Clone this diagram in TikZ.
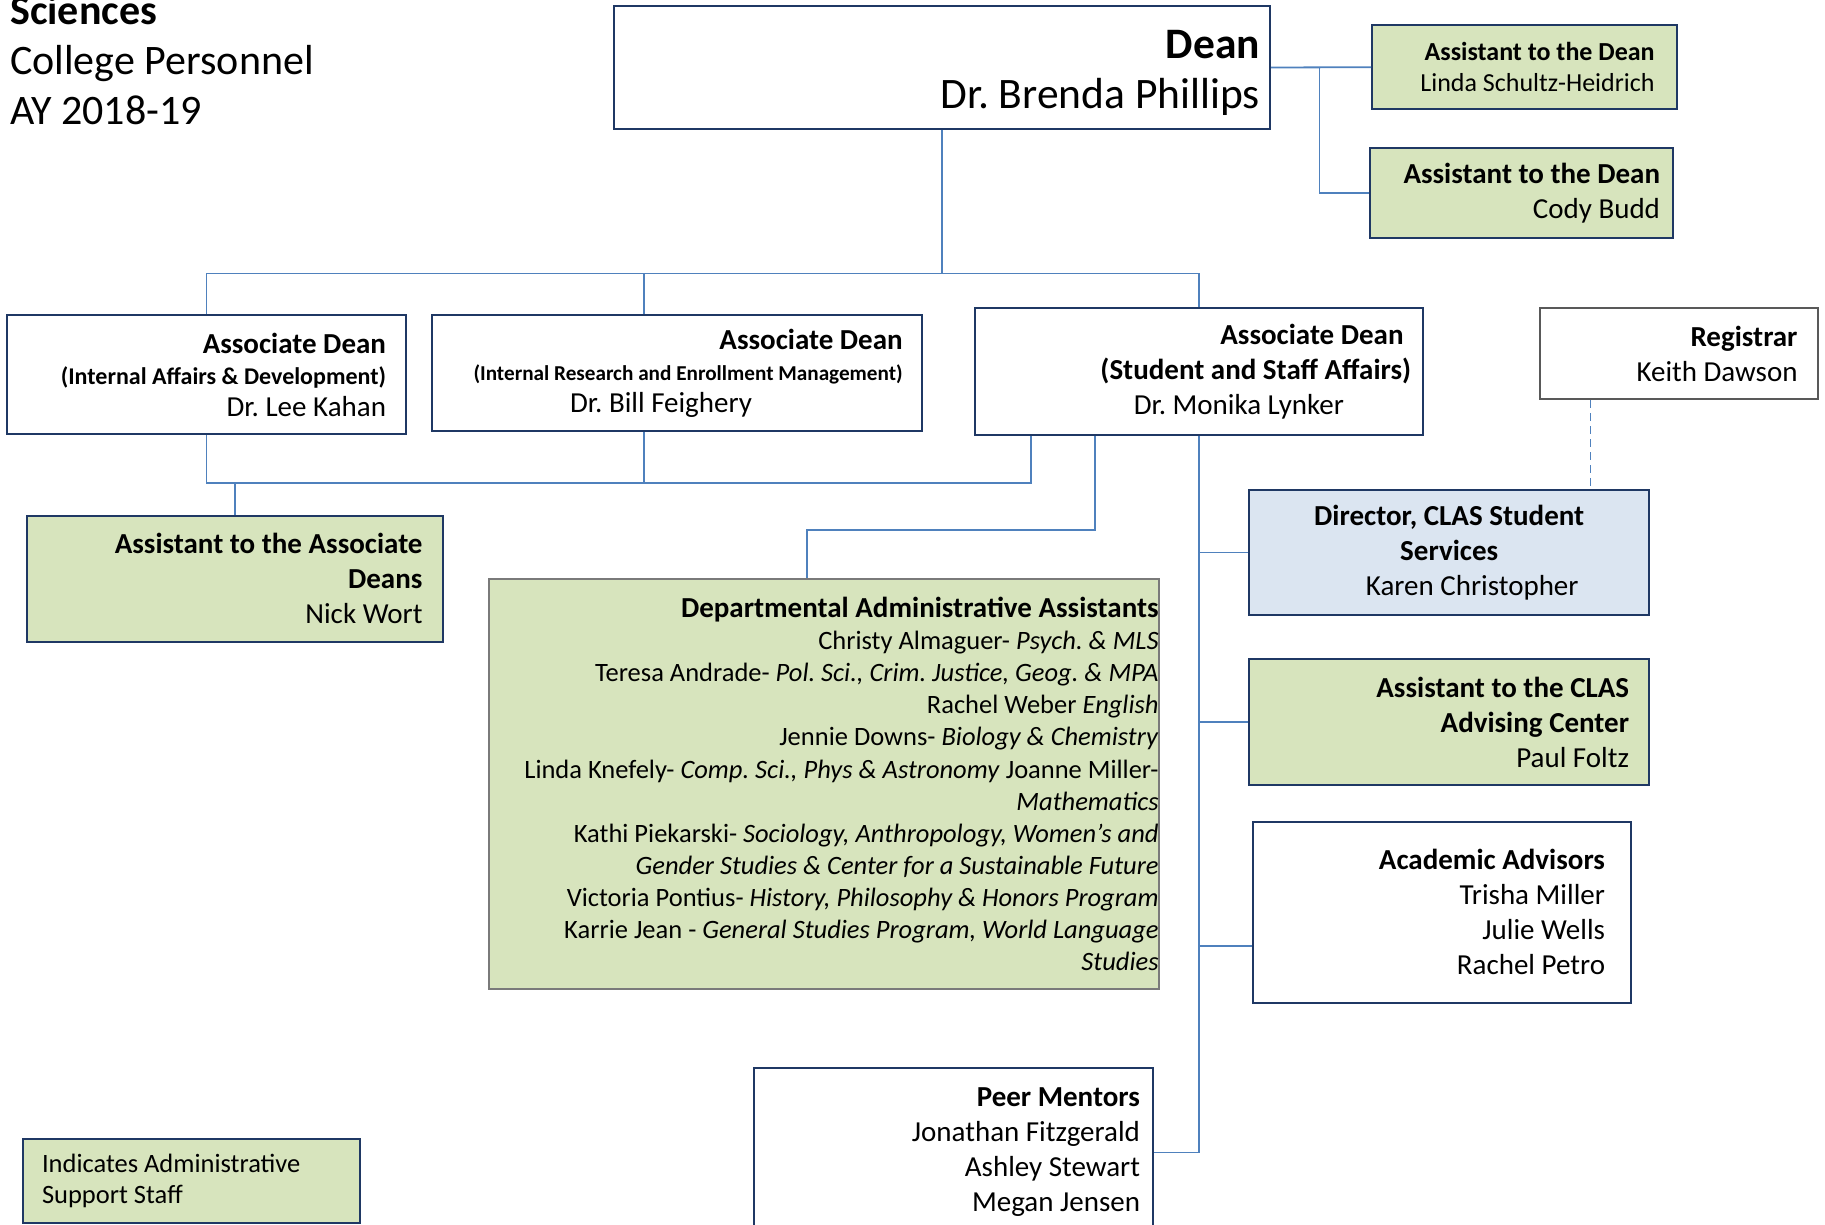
\documentclass[tikz,border=0pt]{standalone}
\usepackage{fontspec}
\setmainfont{Carlito}
\frenchspacing

\definecolor{navyline}{HTML}{1F3864}
\definecolor{linkblue}{HTML}{4F81BD}
\definecolor{supportgreen}{HTML}{D7E4BD}
\definecolor{servicesblue}{HTML}{DBE5F1}
\definecolor{greyline}{HTML}{595959}
\definecolor{listline}{HTML}{7A7A7A}

\newcommand{\titlefont}{\fontsize{42}{50}\selectfont}
\newcommand{\deanfont}{\fontsize{43.5}{50}\selectfont}
\newcommand{\boxfont}{\fontsize{29}{35}\selectfont}
\newcommand{\adfont}{\fontsize{29}{31.5}\selectfont}
\newcommand{\smallboxfont}{\fontsize{26}{31}\selectfont}
\newcommand{\listfont}{\fontsize{26.5}{32.1}\selectfont}
\newcommand{\legendfont}{\fontsize{26.5}{31}\selectfont}

\tikzset{
  unit/.style={draw=navyline, line width=2pt, fill=white, inner xsep=0pt, inner ysep=0pt, align=flush right},
  support/.style={unit, fill=supportgreen},
  link/.style={draw=linkblue, line width=1.8pt},
}

\begin{document}
\begin{tikzpicture}[x=1pt, y=-1pt]
\useasboundingbox (0,0) rectangle (1825,1225);

% heading
\node[anchor=base west, inner sep=0pt, font=\titlefont\bfseries] (sciences) at (10,25) {Sciences};
\node[anchor=base west, inner sep=0pt, font=\titlefont] (college) at (10,75) {College Personnel};
\node[anchor=base west, inner sep=0pt, font=\titlefont] (year) at (10,125) {AY 2018-19};

% dean and her assistants
\node[unit, minimum width=656pt, minimum height=123.6pt, text width=636pt, font=\deanfont] (dean) at (942,67.5)
  {\rule{0pt}{40pt}\textbf{Dean}\\Dr. Brenda Phillips};
\node[support, minimum width=304.6pt, minimum height=84.3pt, text width=260.6pt, font=\smallboxfont] (linda) at (1524.3,67.2)
  {\textbf{Assistant to the Dean}\\Linda Schultz-Heidrich};
\node[support, minimum width=303.2pt, minimum height=90pt, text width=277.8pt, font=\boxfont] (cody) at (1521.1,193.3)
  {\textbf{Assistant to the Dean}\\Cody Budd};

% associate deans
\node[unit, minimum width=399pt, minimum height=119pt, text width=359pt, font=\adfont] (adinternal) at (206.5,374.5)
  {\textbf{Associate Dean}\\{\fontsize{24}{31.5}\selectfont\bfseries(Internal Affairs \& Development)}\\Dr. Lee Kahan};
\node[unit, minimum width=490.3pt, minimum height=116pt, text width=452pt, font=\adfont] (adresearch) at (676.7,373)
  {\textbf{Associate Dean}\\{\fontsize{21.2}{27}\selectfont\bfseries(Internal Research and Enrollment Management)}\\Dr. Bill Feighery\kern150.7pt};
\node[unit, minimum width=448pt, minimum height=126.7pt, text width=424pt, font=\boxfont] (adstudent) at (1199,371.7)
  {\textbf{Associate Dean}\kern7.4pt\\\textbf{(Student and Staff Affairs)}\\Dr. Monika Lynker\kern67pt};
\node[unit, draw=greyline, minimum width=277.3pt, minimum height=90.7pt, text width=237pt, font=\boxfont] (registrar) at (1679,353.7)
  {\textbf{Registrar}\\Keith Dawson};

% staff
\node[support, minimum width=415.7pt, minimum height=125.7pt, text width=374.5pt, font=\boxfont] (asstassoc) at (235.2,578.9)
  {\textbf{Assistant to the Associate}\\\textbf{Deans}\\Nick Wort};
\node[support, draw=listline, minimum width=669.6pt, minimum height=410pt, text width=669.6pt, font=\listfont] (daa) at (823.8,784)
  {{\fontsize{29}{32.1}\selectfont\bfseries Departmental Administrative Assistants}\\
   Christy Almaguer- \textit{Psych. \& MLS}\\
   Teresa Andrade- \textit{Pol. Sci., Crim. Justice, Geog. \& MPA}\\
   Rachel Weber \textit{English}\\
   Jennie Downs- \textit{Biology \& Chemistry}\\
   Linda Knefely- \textit{Comp. Sci., Phys \& Astronomy} Joanne Miller-\\
   \textit{Mathematics}\\
   Kathi Piekarski- \textit{Sociology, Anthropology, Women’s and}\\
   \textit{Gender Studies \& Center for a Sustainable Future}\\
   Victoria Pontius- \textit{History, Philosophy \& Honors Program}\\
   Karrie Jean - \textit{General Studies Program, World Language}\\
   \textit{Studies}};
\node[unit, fill=servicesblue, align=flush center, minimum width=400.3pt, minimum height=125pt, text width=360pt, font=\boxfont] (director) at (1449.2,552.5)
  {\textbf{Director, CLAS Student}\\\textbf{Services}\\\hspace*{46pt}Karen Christopher};
\node[support, minimum width=400.3pt, minimum height=126pt, text width=359.7pt, font=\boxfont] (asstclas) at (1449.2,722)
  {\textbf{Assistant to the CLAS}\\\textbf{Advising Center}\\Paul Foltz};
\node[unit, minimum width=378pt, minimum height=181pt, text width=326.6pt, font=\boxfont] (advisors) at (1441.7,912.2)
  {\textbf{Academic Advisors}\\Trisha Miller\\Julie Wells\\Rachel Petro};
\node[unit, minimum width=399.4pt, minimum height=168.4pt, text width=373.4pt, font=\boxfont] (peer) at (953.3,1152.5)
  {\textbf{Peer Mentors}\\Jonathan Fitzgerald\\Ashley Stewart\\Megan Jensen};

% legend
\node[support, align=flush left, minimum width=336.6pt, minimum height=84pt, text width=298.6pt, font=\legendfont] (legend) at (191.3,1181)
  {Indicates Administrative\\Support Staff};

% connectors
\coordinate (deanjoint) at (1319.5,67.5);
\coordinate (bus) at (0,273.5);
\coordinate (lowbus) at (0,482.7);
\coordinate (daabend) at (0,530);
\coordinate (researchtop) at ([xshift=-32.7pt]adresearch.north);
\coordinate (researchfoot) at ([xshift=-32.7pt]adresearch.south);
\coordinate (studentleft) at ([xshift=-168pt]adstudent.south);
\coordinate (studentdaa) at ([xshift=-104pt]adstudent.south);
\coordinate (daatop) at ([xshift=-16.8pt]daa.north);
\coordinate (registrarfoot) at ([xshift=-88.4pt]registrar.south);
\coordinate (advisorsjoint) at ([yshift=-33.8pt]advisors.west);

\draw[link] (dean.east) -- (linda.west);
\draw[link] (deanjoint) |- (cody.west);
\draw[link] (dean.south) -- (dean.south |- bus);
\draw[link] (adinternal.north) |- (adstudent.north |- bus) -- (adstudent.north);
\draw[link] (researchtop) -- (researchtop |- bus);
\draw[link] (adinternal.south) |- (studentleft |- lowbus) -- (studentleft);
\draw[link] (researchfoot) -- (researchfoot |- lowbus);
\draw[link] (asstassoc.north) -- (asstassoc.north |- lowbus);
\draw[link] (studentdaa) -- (studentdaa |- daabend) -| (daatop);
\draw[link] (adstudent.south) |- (peer.east);
\draw[link] (director.west) -- (director.west -| adstudent.south);
\draw[link] (asstclas.west) -- (asstclas.west -| adstudent.south);
\draw[link] (advisorsjoint) -- (advisorsjoint -| adstudent.south);
\draw[link, line width=1.5pt, dash pattern=on 8pt off 5pt] (registrarfoot) -- (registrarfoot |- director.north);
\end{tikzpicture}
\end{document}
